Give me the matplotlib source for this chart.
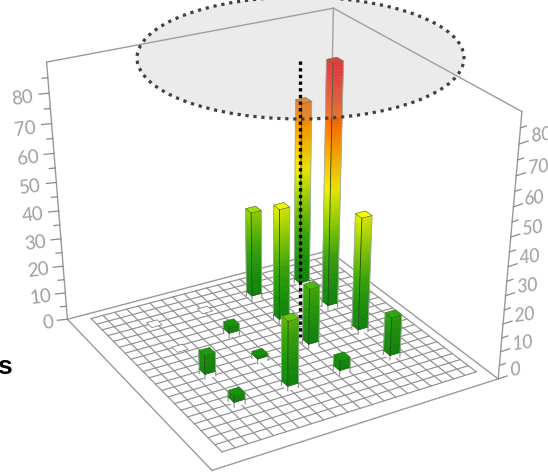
import numpy as np
import matplotlib
matplotlib.use("Agg")
import matplotlib.pyplot as plt
from matplotlib.collections import PolyCollection
from matplotlib.colors import LinearSegmentedColormap, to_rgb
from matplotlib.patches import Ellipse

# bar values, one per grid position
bar_col = [3.85, 3.85, 3.85, 3.85, 8.2, 8.2, 8.2, 8.2, 12.55, 12.55, 12.55, 12.55, 16.9, 16.9, 16.9, 16.9]
bar_row = [4.95, 9.3, 13.65, 17.9, 4.95, 9.3, 13.65, 17.9, 4.95, 9.3, 13.65, 17.9, 4.95, 9.3, 13.65, 17.9]
bar_val = [4, 8.5, 0, 0, 25, 2.6, 4.2, 0, 5.5, 22, 42, 33, 15.6, 42.5, 87.5, 67.7]

z_ticks = list(range(0, 90, 5))
z_labels = [0, 10, 20, 30, 40, 50, 60, 70, 80]
N_GRID = 21
Z_MAX = 90.0
BAR_W = 0.44

# frame corners in the picture, the camera is fitted on them
corners_w = np.array([[0,0,0],[1,0,0],[0,1,0],[1,1,0],[1,0,1],[0,1,1],[1,1,1]], float)
corners_p = np.array([[212,472],[498,377],[67,317],[329,253],[522,112],[47,63],[333,7]], float)

rows = []
for (X, Y, Z), (u, v) in zip(corners_w, corners_p):
    rows.append([X, Y, Z, 1, 0, 0, 0, 0, -u*X, -u*Y, -u*Z, -u])
    rows.append([0, 0, 0, 0, X, Y, Z, 1, -v*X, -v*Y, -v*Z, -v])
P = np.linalg.svd(np.array(rows))[2][-1].reshape(3, 4)

GRID_X0, GRID_X1 = 0.069, 0.966
GRID_Y0, GRID_Y1 = 0.068, 0.966

def proj(col, row, z=0.0):
    # grid units and chart value to picture position
    x = GRID_X0 + (GRID_X1 - GRID_X0) * col / N_GRID
    y = GRID_Y0 + (GRID_Y1 - GRID_Y0) * row / N_GRID
    h = P @ np.array([x, y, z / Z_MAX, 1.0])
    return h[0] / h[2], h[1] / h[2]

def frame(x, y, z):
    h = P @ np.array([x, y, z, 1.0])
    return h[0] / h[2], h[1] / h[2]

heat = LinearSegmentedColormap.from_list("heat", [
    (0.0, "#0a860a"), (10/90, "#189408"), (20/90, "#38a808"), (30/90, "#7cc804"),
    (40/90, "#cce800"), (45/90, "#f8ee00"), (55/90, "#ffb800"), (65/90, "#ff8000"),
    (75/90, "#ff4a10"), (85/90, "#ff1a1a"), (1.0, "#ff1010")])

fig = plt.figure(figsize=(5.48, 4.75), dpi=100)
ax = fig.add_axes([0, 0, 1, 1])
ax.set_xlim(0, 548)
ax.set_ylim(475, 0)
ax.axis("off")

# frame
for a, b in [(0,1),(0,2),(1,3),(2,3),(1,4),(2,5),(3,6),(4,6),(5,6)]:
    pa = frame(*corners_w[a])
    pb = frame(*corners_w[b])
    ax.plot([pa[0], pb[0]], [pa[1], pb[1]], color="#9a9a9a", lw=1.0, zorder=1)

# floor grid
for i in range(N_GRID + 1):
    a, b = proj(i, 0), proj(i, N_GRID)
    ax.plot([a[0], b[0]], [a[1], b[1]], color="#909090", lw=0.85, zorder=2)
    a, b = proj(0, i), proj(N_GRID, i)
    ax.plot([a[0], b[0]], [a[1], b[1]], color="#909090", lw=0.85, zorder=2)

# z axis ticks on the two side corners
for z in z_ticks:
    major = z % 10 == 0
    x, y = frame(0, 1, z / Z_MAX)
    ln = 10 if major else 6
    ax.plot([x, x - ln], [y, y + 0.1 * ln], color="#8a8a8a", lw=0.9, zorder=1)
    if z in z_labels:
        ax.text(x - ln - 3 - z / 40, y + 3.5 + z / 40, str(z), ha="right", va="center", rotation=7,
                family="Lato", fontsize=13.5, color="#a0a0a0")
    x, y = frame(1, 0, z / Z_MAX)
    ln = 9 if major else 6
    ax.plot([x, x + ln], [y, y - 0.33 * ln], color="#8a8a8a", lw=0.9, zorder=1)
    if z in z_labels:
        ax.text(x + ln + 1, y - 9, str(z), ha="left", va="center", rotation=7,
                family="Lato", style="italic", fontsize=13.5, color="#a0a0a0")

def shade(c, k):
    return tuple(min(1.0, v * k) for v in to_rgb(c))

def draw_bar(col, row, val, zo):
    x0, x1, y0, y1 = col - BAR_W, col + BAR_W, row - BAR_W, row + BAR_W
    if val <= 0:
        pts = [proj(x0, y0), proj(x1, y0), proj(x1, y1), proj(x0, y1)]
        ax.add_patch(plt.Polygon(pts, closed=True, fc="white", ec="#707070", lw=0.5, zorder=zo))
        return
    stub = min(1.7, val - 0.8)
    # white foot of the column
    ax.add_patch(plt.Polygon([proj(x0, y1, 0), proj(x0, y0, 0), proj(x1, y0, 0),
                              proj(x1, y0, stub), proj(x0, y0, stub), proj(x0, y1, stub)],
                             closed=True, fc="white", ec="none", zorder=zo))
    for cx, cy in [(x0, y1), (x0, y0), (x1, y0)]:
        a, b = proj(cx, cy, 0), proj(cx, cy, stub)
        ax.plot([a[0], b[0]], [a[1], b[1]], color="#8c8c8c", lw=0.8, zorder=zo)
    # coloured part, cut in thin slices for the gradient
    levels = np.append(np.arange(stub, val, 1.0), val)
    polys, cols = [], []
    for lo, hi in zip(levels[:-1], levels[1:]):
        c = heat(hi / Z_MAX)
        polys.append([proj(x0, y1, lo), proj(x0, y0, lo), proj(x0, y0, hi), proj(x0, y1, hi)])
        cols.append(shade(c, 1.0))
        polys.append([proj(x0, y0, lo), proj(x1, y0, lo), proj(x1, y0, hi), proj(x0, y0, hi)])
        cols.append(shade(c, 0.94))
    ax.add_collection(PolyCollection(polys, facecolors=cols, edgecolors=cols, linewidths=0.3, zorder=zo))
    top = [proj(x0, y0, val), proj(x1, y0, val), proj(x1, y1, val), proj(x0, y1, val)]
    ax.add_patch(plt.Polygon(top, closed=True, fc=shade(heat(val / Z_MAX), 1.08), ec="#3c5a20", lw=0.4, zorder=zo))
    # edges
    for cx, cy, c, lw in [(x0, y0, "#2a4a20", 0.6), (x0, y1, "#a0a8a0", 0.6), (x1, y0, "#a0a8a0", 0.6)]:
        a, b = proj(cx, cy, stub), proj(cx, cy, val)
        ax.plot([a[0], b[0]], [a[1], b[1]], color=c, lw=lw, zorder=zo)
    foot = [proj(x0, y1, stub), proj(x0, y0, stub), proj(x1, y0, stub)]
    ax.plot([p[0] for p in foot], [p[1] for p in foot], color="#2f6a20", lw=0.5, zorder=zo)

# back to front
order = sorted(range(len(bar_val)), key=lambda i: -(bar_col[i] + bar_row[i]))
for n, i in enumerate(order):
    draw_bar(bar_col[i], bar_row[i], bar_val[i], 3 + n * 0.01)

# marked region and dotted line on top of everything
ax.add_patch(Ellipse((300.5, 58), 327, 122, fc="#b0b0b0", ec="none", alpha=0.25, zorder=5))
ax.add_patch(Ellipse((300.5, 58), 327, 122, fill=False, ec="#404040", lw=2.3,
                     ls=(0, (1, 1.5)), zorder=6))
ax.plot([300, 300], [61, 337], color="black", lw=2.4, ls=(0, (1, 1.0)), zorder=6)

ax.text(12, 374, "s", ha="right", va="baseline", family="Liberation Sans",
        weight="bold", fontsize=19, color="black")

fig.savefig("out.png", dpi=100)
